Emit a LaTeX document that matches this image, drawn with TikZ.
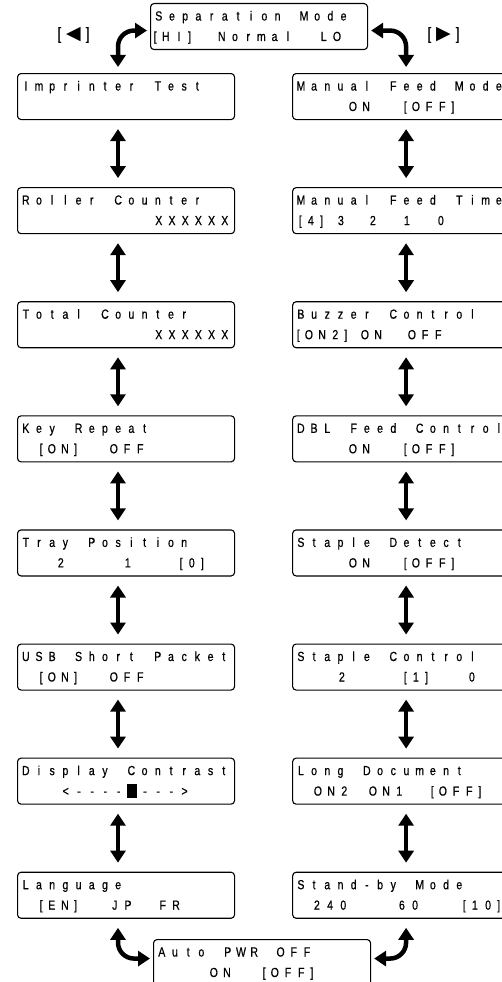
\documentclass[tikz,border=0pt]{standalone}
\usepackage{fontspec}
\newfontfamily\lcdfont[FakeStretch=0.8, FakeBold=0.6]{Liberation Sans}
\newfontfamily\symfont{DejaVu Sans}
\usetikzlibrary{arrows.meta, positioning}

% character cells of the display
\newlength\lcdpitch
\setlength\lcdpitch{13.2pt}
\ExplSyntaxOn
\cs_new_protected:Npn \lcd_cells:n #1
  {
    \str_map_inline:nn {#1}
      {
        \str_case:nnF {##1}
          {
            { [ } { \makebox[8pt][c]{##1} }
            { ] } { \makebox[8pt][c]{##1} }
            { * } { \makebox[\lcdpitch][c]{\rule[-2pt]{10.5pt}{13.5pt}} }
          }
          { \makebox[\lcdpitch][c]{##1} }
      }
  }
\cs_generate_variant:Nn \lcd_cells:n { x }
\NewDocumentCommand \lcd { m } { \lcd_cells:x {#1} }
\ExplSyntaxOff

\begin{document}
\begin{tikzpicture}[x=1pt, y=-1pt, node distance=67pt and 57pt,
    screen/.style={draw, line width=1.1pt, rounded corners=3.5pt, minimum width=217pt, minimum height=46pt, inner sep=0pt},
    lcdtext/.style={anchor=base west, inner sep=0pt, font=\lcdfont\fontsize{13.2}{15}\selectfont},
    keylabel/.style={inner sep=0pt, font=\lcdfont\fontsize{17}{18}\selectfont},
    updown/.style={{Triangle[width=15pt,length=12pt]}-{Triangle[width=15pt,length=12pt]}, line width=4.5pt, shorten <=9pt, shorten >=9pt}]
  \useasboundingbox (0,0) rectangle (502,982);

  % screens
  \node[screen, anchor=north west] (sep) at (150,3) {};
  \node[screen, anchor=north west] (imp) at (17,73) {};
  \node[screen, below=of imp] (roll) {};
  \node[screen, below=of roll] (tot) {};
  \node[screen, below=of tot] (key) {};
  \node[screen, below=of key] (tray) {};
  \node[screen, below=of tray] (usb) {};
  \node[screen, below=of usb] (disp) {};
  \node[screen, below=of disp] (lang) {};
  \node[screen, right=of imp] (mfm) {};
  \node[screen, below=of mfm] (mft) {};
  \node[screen, below=of mft] (buzz) {};
  \node[screen, below=of buzz] (dbl) {};
  \node[screen, below=of dbl] (sdet) {};
  \node[screen, below=of sdet] (sctl) {};
  \node[screen, below=of sctl] (longd) {};
  \node[screen, below=of longd] (stby) {};
  \node[screen, anchor=north west] (auto) at (153,939) {};

  % first lines
  \foreach \scr/\txt in {sep/Separation Mode, imp/Imprinter Test, roll/Roller Counter,
      tot/Total Counter, key/Key Repeat, tray/Tray Position, usb/USB Short Packet,
      disp/Display Contrast, lang/Language, mfm/Manual Feed Mode, mft/Manual Feed Time,
      buzz/Buzzer Control, dbl/DBL Feed Control, sdet/Staple Detect, sctl/Staple Control,
      longd/Long Document, stby/Stand-by Mode, auto/Auto PWR OFF}
    \node[lcdtext] (\scr-top) at ([shift={(2,17.5)}]\scr.north west) {\lcd{\txt}};

  % second lines
  \foreach \scr/\dx/\txt [count=\k] in {sep/1/[HI], sep/65/Normal, sep/167/LO,
      roll/135/XXXXXX, tot/135/XXXXXX, key/20/[ON], key/90/OFF,
      tray/37/2, tray/104/1, tray/160/[0], usb/20/[ON], usb/90/OFF,
      disp/42/<----*--->, lang/20/[EN], lang/91/JP, lang/139/FR,
      mfm/54/ON, mfm/109/[OFF], mft/4/[4], mft/42/3, mft/74/2, mft/108/1, mft/142/0,
      buzz/2/[ON2], buzz/66/ON, buzz/113/OFF, dbl/54/ON, dbl/109/[OFF],
      sdet/54/ON, sdet/109/[OFF], sctl/43/2, sctl/109/[1], sctl/173/0,
      longd/19/ON2, longd/74/ON1, longd/136/[OFF],
      stby/18/240, stby/103/60, stby/168/[10], auto/54/ON, auto/107/[OFF]}
    \node[lcdtext] (\scr-\k) at ([shift={(\dx,38)}]\scr.north west) {\lcd{\txt}};

  % key labels
  \node[keylabel] (prevkey) at (73.5,35) {[\hspace{5pt}{\symfont\fontsize{19}{19}\selectfont ◀}\hspace{5pt}]};
  \node[keylabel] (nextkey) at (443.5,35) {[\hspace{5pt}{\symfont\fontsize{19}{19}\selectfont ▶}\hspace{5pt}]};

  % arrows
  \foreach \a/\b in {imp/roll, roll/tot, tot/key, key/tray, tray/usb, usb/disp, disp/lang}
    \draw[updown] ([xshift=101pt]\a.south west) -- ([xshift=101pt]\b.north west);
  \foreach \a/\b in {mfm/mft, mft/buzz, buzz/dbl, dbl/sdet, sdet/sctl, sctl/longd, longd/stby}
    \draw[updown] ([xshift=114pt]\a.south west) -- ([xshift=114pt]\b.north west);
  \draw[updown, rounded corners=16pt, shorten <=6pt, shorten >=3pt] ([xshift=101pt]imp.north west) |- ([yshift=-4pt]sep.west);
  \draw[updown, rounded corners=16pt, shorten <=6pt, shorten >=3pt] ([xshift=114pt]mfm.north west) |- ([yshift=-4pt]sep.east);
  \draw[updown, rounded corners=16pt, shorten <=9pt, shorten >=3pt] ([xshift=101pt]lang.south west) |- ([yshift=4pt]auto.west);
  \draw[updown, rounded corners=16pt, shorten <=9pt, shorten >=3pt] ([xshift=114pt]stby.south west) |- ([yshift=4pt]auto.east);
\end{tikzpicture}
\end{document}
